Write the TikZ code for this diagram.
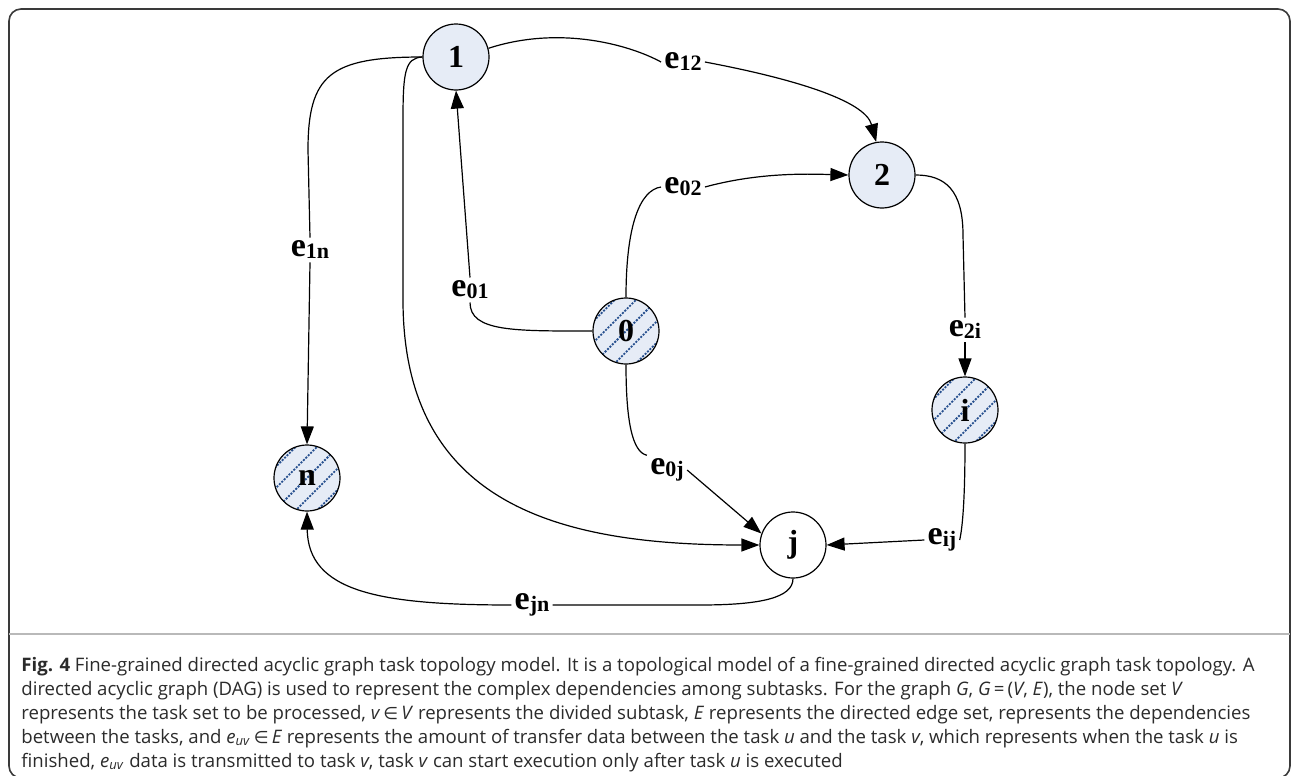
\documentclass[tikz,border=0pt]{standalone}
\usepackage{fontspec}
\setmainfont{Liberation Serif}
\newfontfamily\capfont{Open Sans}
\newfontfamily\symfont{DejaVu Sans}
\usetikzlibrary{arrows.meta}
\definecolor{nodefill}{HTML}{E6ECF6}
\definecolor{hatchblue}{HTML}{27508F}
\definecolor{framegray}{HTML}{3A3A3A}
\definecolor{captext}{HTML}{2B2B2B}
\newcommand{\elab}[1]{\fontsize{17}{17}\selectfont\bfseries e\raisebox{-1pt}{\fontsize{11}{11}\selectfont\bfseries #1}}
\newcommand{\inel}{{\symfont\fontsize{8.5}{10}\selectfont ∈}}
\begin{document}
\begin{tikzpicture}[x=0.5pt,y=-0.5pt,
  tasknode/.style={circle, draw=black, line width=0.6pt, fill=nodefill, minimum size=33pt, inner sep=0pt, font=\fontsize{16}{16}\selectfont\bfseries},
  plainnode/.style={tasknode, fill=white},
  hatchline/.style={draw=hatchblue, line width=0.9pt, dash pattern=on 1pt off 0.7pt},
  hatched/.style={tasknode, path picture={\foreach \k in {-3,...,3}{\draw[hatchline] ([xshift=\k*10.6pt-25pt, yshift=-25pt]path picture bounding box.center) -- ++(50pt,50pt);}}},
  lab/.style={fill=white, inner sep=1.5pt},
  conn/.style={draw=black, line width=0.6pt},
  arr/.style={conn, -{Triangle[length=9pt,width=6.5pt]}},
  capline/.style={anchor=base west, inner sep=0pt, text=captext, font=\capfont\fontsize{9.3}{11}\selectfont}
]
\useasboundingbox (0,0) rectangle (1292,776);
\fill[white] (0,0) rectangle (1292,776);
\draw[framegray, line width=0.8pt, rounded corners=6pt] (9,9) rectangle (1290,778);
\draw[gray!55, line width=0.6pt] (9,634) -- (1290,634);

% nodes
\node[tasknode] (n1) at (456,57) {1};
\node[tasknode] (n2) at (882,175) {2};
\node[hatched] (n0) at (626,331) {0};
\node[hatched] (ni) at (965,410) {i};
\node[hatched] (nn) at (307,478) {n};
\node[plainnode] (nj) at (793,545) {j};

% labels
\node[lab] (l12) at (683,62) {\elab{12}};
\node[lab] (l1n) at (310,250) {\elab{1n}};
\node[lab] (l01) at (470,290) {\elab{01}};
\node[lab] (l02) at (683,187) {\elab{02}};
\node[lab] (l2i) at (965,330) {\elab{2i}};
\node[lab] (l0j) at (667,470) {\elab{0j}};
\node[lab] (lij) at (942,540) {\elab{ij}};
\node[lab] (ljn) at (532,605) {\elab{jn}};

% edges
\draw[conn] (n1.15) .. controls (560,25) and (630,45) .. (l12.west);
\draw[arr] (l12.east) .. controls (790,78) and (865,100) .. (n2.100);
\draw[conn] (n1.west) .. controls (330,57) and (308,75) .. (308,150) -- (l1n.north);
\draw[arr] (l1n.south) -- (nn.north);
\draw[arr] (n1.west) .. controls (405,58) and (403,72) .. (403,120) -- (403,300) .. controls (403,505) and (560,545) .. (nj.west);
\draw[conn] (n0.west) .. controls (515,331) and (470,332) .. (l01.south);
\draw[arr] (l01.north) -- (n1.south);
\draw[conn] (n0.north) .. controls (626,225) and (640,190) .. (l02.west);
\draw[arr] (l02.east) .. controls (760,172) and (810,174) .. (n2.west);
\draw[conn] (n0.south) .. controls (626,420) and (632,452) .. (l0j.north west);
\draw[arr] (l0j.east) -- (nj.160);
\draw[conn] (n2.east) .. controls (945,175) and (963,190) .. (963,235) -- (l2i.north);
\draw[arr] (l2i.south) -- (ni.north);
\draw[conn] (ni.south) .. controls (965,505) and (962,530) .. (lij.east);
\draw[arr] (lij.west) -- (nj.east);
\draw[conn] (nj.south) .. controls (793,598) and (760,605) .. (700,605) -- (ljn.east);
\draw[arr] (ljn.west) .. controls (380,605) and (308,592) .. (nn.south);

% caption
\node[capline] (c1) at (21,671) {\textbf{Fig. 4} Fine-grained directed acyclic graph task topology model. It is a topological model of a fine-grained directed acyclic graph task topology. A};
\node[capline] (c2) at (21,695) {directed acyclic graph (DAG) is used to represent the complex dependencies among subtasks. For the graph \textit{G}, \textit{G}\,=\,(\textit{V}, \textit{E}), the node set \textit{V}};
\node[capline] (c3) at (21,719) {represents the task set to be processed, \textit{v}\,\inel\,\textit{V} represents the divided subtask, \textit{E} represents the directed edge set, represents the dependencies};
\node[capline] (c4) at (21,743) {between the tasks, and \textit{e}\textsubscript{\textit{uv}}\,\inel\,\textit{E} represents the amount of transfer data between the task \textit{u} and the task \textit{v}, which represents when the task \textit{u} is};
\node[capline] (c5) at (21,767) {finished, \textit{e}\textsubscript{\textit{uv}} data is transmitted to task \textit{v}, task \textit{v} can start execution only after task \textit{u} is executed};
\end{tikzpicture}
\end{document}
